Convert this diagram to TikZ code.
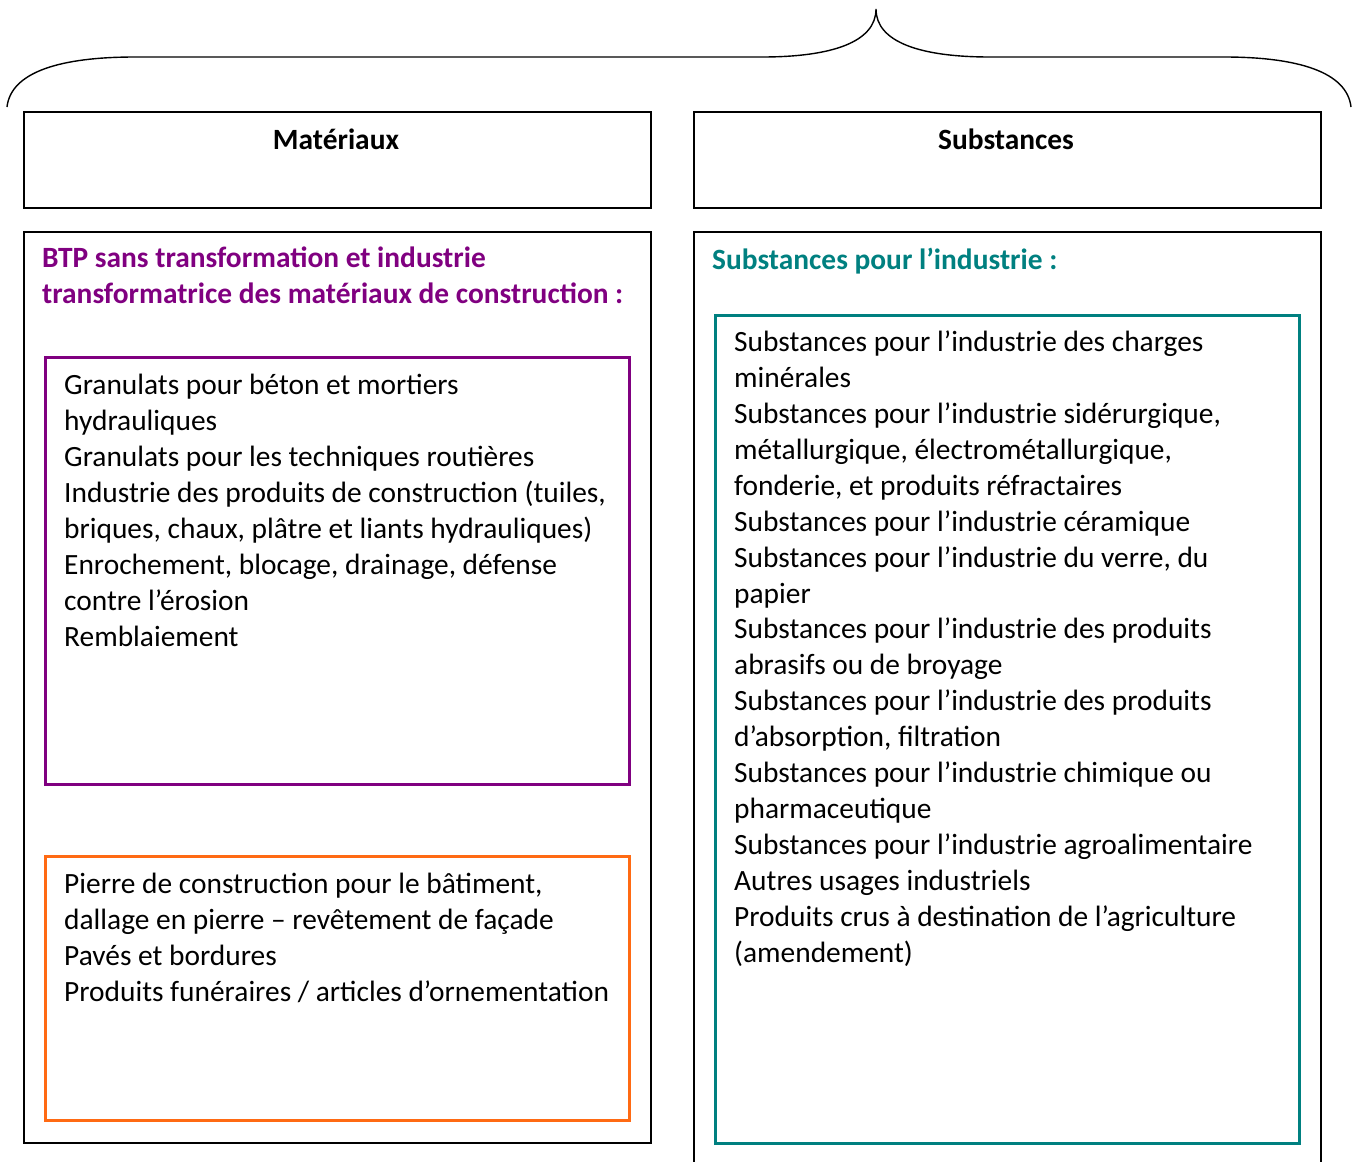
\documentclass[tikz,border=0pt]{standalone}
\usepackage{fontspec}
\setmainfont{Carlito}
\usetikzlibrary{positioning}
\definecolor{matpurple}{HTML}{800080}
\definecolor{subteal}{HTML}{008080}
\definecolor{pierreorange}{HTML}{FF6A13}
\tikzset{every node/.style={align=left, inner sep=0pt},
         blackbox/.style={ % black frames
           draw=black, line width=1.6pt, anchor=north west},
         colbox/.style={ % coloured frames
           line width=3.2pt, anchor=north west},
         bodytext/.style={anchor=base west, % base = last line
           font=\fontsize{29.4}{35.9}\selectfont},
         headtext/.style={anchor=base west,
           font=\fontsize{29.4}{35.5}\selectfont\bfseries}}

\begin{document}
\begin{tikzpicture}[x=1pt, y=-1pt]
  \useasboundingbox (0,0) rectangle (1358,1162);
  \clip (0,0) rectangle (1358,1162);

  % brace over both columns
  \draw[line width=1.4pt] (7,107) .. controls (11,72) and (60,57) .. (135,57)
    -- (762,57) .. controls (832,57) and (876,42) .. (876,9)
    .. controls (876,42) and (920,57) .. (990,57)
    -- (1224,57) .. controls (1298,57) and (1347,72) .. (1351,107);

  % headers
  \node [blackbox, minimum width=627pt, minimum height=96pt] (matbox) at (23,111) {};
  \node [blackbox, minimum width=627pt, minimum height=96pt] (subbox) at (693,111) {};
  \node [headtext, anchor=base] (mattitle) at (336,149) {Matériaux};
  \node [headtext, anchor=base] (subtitle) at (1006,149) {Substances};

  % outer frames
  \node [blackbox, minimum width=627pt, minimum height=911pt] (matouter) at (23,231) {};
  \node [blackbox, minimum width=627pt, minimum height=960pt] (subouter) at (693,231) {};

  % left column
  \node [headtext, text=matpurple] (btptitle) at (42,303) {
    BTP sans transformation et industrie\\
    transformatrice des matériaux de construction :};
  \node [colbox, draw=matpurple, minimum width=584pt, minimum height=427pt] (granbox) at (44,356) {};
  \node [bodytext] (granlist) at (64,646) {
    Granulats pour béton et mortiers\\
    hydrauliques\\
    Granulats pour les techniques routières\\
    Industrie des produits de construction (tuiles,\\
    briques, chaux, plâtre et liants hydrauliques)\\
    Enrochement, blocage, drainage, défense\\
    contre l’érosion\\
    Remblaiement};
  \node [colbox, draw=pierreorange, minimum width=584pt, minimum height=264pt] (pierrebox) at (44,855) {};
  \node [bodytext] (pierrelist) at (64,1001) {
    Pierre de construction pour le bâtiment,\\
    dallage en pierre – revêtement de façade\\
    Pavés et bordures\\
    Produits funéraires / articles d’ornementation};

  % right column
  \node [headtext, text=subteal] (indtitle) at (712,269) {Substances pour l’industrie :};
  \node [colbox, draw=subteal, minimum width=584pt, minimum height=828pt] (indbox) at (714,314) {};
  \node [bodytext] (indlist) at (734,962) {
    Substances pour l’industrie des charges\\
    minérales\\
    Substances pour l’industrie sidérurgique,\\
    métallurgique, électrométallurgique,\\
    fonderie, et produits réfractaires\\
    Substances pour l’industrie céramique\\
    Substances pour l’industrie du verre, du\\
    papier\\
    Substances pour l’industrie des produits\\
    abrasifs ou de broyage\\
    Substances pour l’industrie des produits\\
    d’absorption, filtration\\
    Substances pour l’industrie chimique ou\\
    pharmaceutique\\
    Substances pour l’industrie agroalimentaire\\
    Autres usages industriels\\
    Produits crus à destination de l’agriculture\\
    (amendement)};
\end{tikzpicture}
\end{document}
